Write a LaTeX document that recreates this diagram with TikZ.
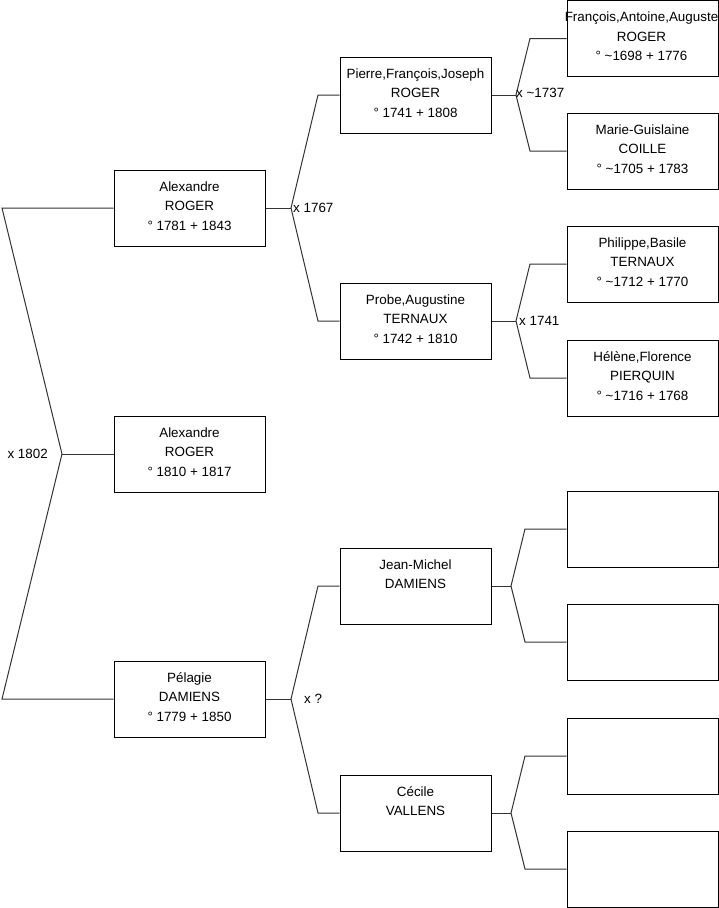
\documentclass[tikz,border=0pt]{standalone}
\usepackage{fontspec}
\setmainfont{Liberation Sans}
\begin{document}
\begin{tikzpicture}[x=1pt,y=-1pt,
  pbox/.style={draw=black, line width=1pt, minimum width=151pt, minimum height=76pt, inner sep=0pt},
  ptext/.style={anchor=north, align=center, inner sep=0pt, font=\fontsize{13.4}{19.5}\selectfont},
  conn/.style={draw=black!80, line width=1pt, line join=miter},
  mlabel/.style={font=\fontsize{13.4}{15}\selectfont, inner sep=0pt}]
\useasboundingbox (0,0) rectangle (719,908);
% generation 1
\node[pbox] (a1) at (189.5,208) {};
\node[pbox] (a2) at (189.5,454) {};
\node[pbox] (pd) at (189.5,699) {};
% generation 2
\node[pbox] (pr) at (415.5,95) {};
\node[pbox] (pt) at (415.5,321) {};
\node[pbox] (jm) at (415.5,586) {};
\node[pbox] (cv) at (415.5,813) {};
% generation 3
\node[pbox] (fr) at (642.5,38.5) {};
\node[pbox] (mc) at (642.5,151) {};
\node[pbox] (ph) at (642.5,264) {};
\node[pbox] (hp) at (642.5,378) {};
\node[pbox] (e1) at (642.5,529) {};
\node[pbox] (e2) at (642.5,642) {};
\node[pbox] (e3) at (642.5,756) {};
\node[pbox] (e4) at (642.5,869) {};
% texts
\node[ptext] (ta1) at ([yshift=-8pt]a1.north) {\strut Alexandre\\ROGER\\° 1781 + 1843};
\node[ptext] (ta2) at ([yshift=-8pt]a2.north) {\strut Alexandre\\ROGER\\° 1810 + 1817};
\node[ptext] (tpd) at ([yshift=-8pt]pd.north) {\strut Pélagie\\DAMIENS\\° 1779 + 1850};
\node[ptext] (tpr) at ([yshift=-8pt]pr.north) {\strut Pierre,François,Joseph\\ROGER\\° 1741 + 1808};
\node[ptext] (tpt) at ([yshift=-8pt]pt.north) {\strut Probe,Augustine\\TERNAUX\\° 1742 + 1810};
\node[ptext] (tjm) at ([yshift=-8pt]jm.north) {\strut Jean-Michel\\DAMIENS};
\node[ptext] (tcv) at ([yshift=-8pt]cv.north) {\strut Cécile\\VALLENS};
\node[ptext] (tfr) at ([yshift=-8pt,xshift=-1pt]fr.north) {\strut François,Antoine,Auguste\\ROGER\\° \textasciitilde1698 + 1776};
\node[ptext] (tmc) at ([yshift=-8pt]mc.north) {\strut Marie-Guislaine\\COILLE\\° \textasciitilde1705 + 1783};
\node[ptext] (tph) at ([yshift=-8pt]ph.north) {\strut Philippe,Basile\\TERNAUX\\° \textasciitilde1712 + 1770};
\node[ptext] (thp) at ([yshift=-8pt]hp.north) {\strut Hélène,Florence\\PIERQUIN\\° \textasciitilde1716 + 1768};
% junction points
\coordinate (k0) at (62,454);
\coordinate (k0a) at (2,208);
\coordinate (k0b) at (2,699);
\coordinate (k1) at (291,208);
\coordinate (k1a) at (318,95);
\coordinate (k1b) at (318,321);
\coordinate (k2) at (291,699);
\coordinate (k2a) at (318,586);
\coordinate (k2b) at (318,813);
\coordinate (k3) at (516,95);
\coordinate (k3a) at (530,38.5);
\coordinate (k3b) at (530,151);
\coordinate (k4) at (516,321);
\coordinate (k4a) at (530,264);
\coordinate (k4b) at (530,378);
\coordinate (k5) at (511,586);
\coordinate (k5a) at (525,529);
\coordinate (k5b) at (525,642);
\coordinate (k6) at (511,813);
\coordinate (k6a) at (525,756);
\coordinate (k6b) at (525,869);
% connectors
\draw[conn] (a1.west) -- (k0a) -- (k0) -- (k0b) -- (pd.west);
\draw[conn] (k0) -- (a2.west);
\draw[conn] (a1.east) -- (k1);
\draw[conn] (pr.west) -- (k1a) -- (k1) -- (k1b) -- (pt.west);
\draw[conn] (pd.east) -- (k2);
\draw[conn] (jm.west) -- (k2a) -- (k2) -- (k2b) -- (cv.west);
\draw[conn] (pr.east) -- (k3);
\draw[conn] (fr.west) -- (k3a) -- (k3) -- (k3b) -- (mc.west);
\draw[conn] (pt.east) -- (k4);
\draw[conn] (ph.west) -- (k4a) -- (k4) -- (k4b) -- (hp.west);
\draw[conn] (jm.east) -- (k5);
\draw[conn] (e1.west) -- (k5a) -- (k5) -- (k5b) -- (e2.west);
\draw[conn] (cv.east) -- (k6);
\draw[conn] (e3.west) -- (k6a) -- (k6) -- (k6b) -- (e4.west);
% marriage labels
\node[mlabel, anchor=east] (m0) at (48,454) {x 1802};
\node[mlabel, anchor=west] (m1) at (293,208) {x 1767};
\node[mlabel, anchor=west] (m2) at (304,699) {x ?};
\node[mlabel, anchor=west] (m3) at (516,93) {x \textasciitilde1737};
\node[mlabel, anchor=west] (m4) at (519,321) {x 1741};
\end{tikzpicture}
\end{document}
